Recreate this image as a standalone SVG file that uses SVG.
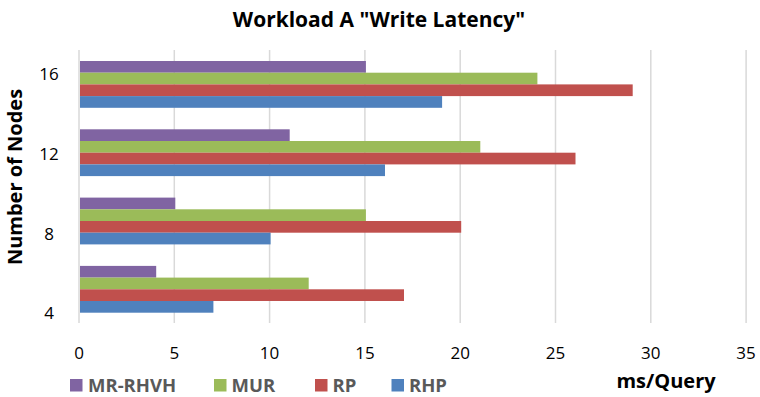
<svg xmlns="http://www.w3.org/2000/svg" width="760" height="397" viewBox="0 0 760 397">
<style>
.t{font-family:"Open Sans","Liberation Sans",sans-serif}
.title{font-size:21px;font-weight:bold;fill:#000}
.tick{font-size:17px;fill:#000}
.axt{font-size:20px;font-weight:bold;fill:#000}
.leg{font-size:18.5px;font-weight:bold;fill:#595959}
.grid{stroke:#d9d9d9;stroke-width:1.5}
.p{fill:#8064A2}.g{fill:#9BBB59}.r{fill:#C0504D}.b{fill:#4F81BD}
</style>
<rect width="760" height="397" fill="#fff"/>
<text id="title" class="t title" x="379" y="27" text-anchor="middle">Workload A "Write Latency"</text>
<g id="gridlines">
<line class="grid" x1="79" y1="50" x2="79" y2="323"/>
<line class="grid" x1="174.3" y1="50" x2="174.3" y2="323"/>
<line class="grid" x1="269.6" y1="50" x2="269.6" y2="323"/>
<line class="grid" x1="364.9" y1="50" x2="364.9" y2="323"/>
<line class="grid" x1="460.2" y1="50" x2="460.2" y2="323"/>
<line class="grid" x1="555.5" y1="50" x2="555.5" y2="323"/>
<line class="grid" x1="650.8" y1="50" x2="650.8" y2="323"/>
<line class="grid" x1="746.1" y1="50" x2="746.1" y2="323"/>
</g>
<g id="cat16">
<rect class="p" x="80" y="61" width="285.9" height="11.7"/>
<rect class="g" x="80" y="72.7" width="457.4" height="11.7"/>
<rect class="r" x="80" y="84.4" width="552.7" height="11.7"/>
<rect class="b" x="80" y="96.1" width="362.1" height="11.7"/>
</g>
<g id="cat12">
<rect class="p" x="80" y="129.3" width="209.7" height="11.7"/>
<rect class="g" x="80" y="141" width="400.3" height="11.7"/>
<rect class="r" x="80" y="152.7" width="495.5" height="11.7"/>
<rect class="b" x="80" y="164.4" width="305" height="11.7"/>
</g>
<g id="cat8">
<rect class="p" x="80" y="197.6" width="95.3" height="11.7"/>
<rect class="g" x="80" y="209.3" width="285.9" height="11.7"/>
<rect class="r" x="80" y="221" width="381.2" height="11.7"/>
<rect class="b" x="80" y="232.7" width="190.6" height="11.7"/>
</g>
<g id="cat4">
<rect class="p" x="80" y="265.9" width="76.2" height="11.7"/>
<rect class="g" x="80" y="277.6" width="228.7" height="11.7"/>
<rect class="r" x="80" y="289.3" width="324" height="11.7"/>
<rect class="b" x="80" y="301" width="133.4" height="11.7"/>
</g>
<g id="y-labels" class="t tick" text-anchor="middle">
<text x="49" y="80">16</text>
<text x="49" y="160">12</text>
<text x="49" y="240">8</text>
<text x="49" y="319">4</text>
</g>
<text id="y-title" class="t axt" font-size="21" text-anchor="middle" transform="translate(22,177) rotate(-90)">Number of Nodes</text>
<g id="x-labels" class="t tick" text-anchor="middle">
<text x="79" y="359">0</text>
<text x="174.3" y="359">5</text>
<text x="269.6" y="359">10</text>
<text x="364.9" y="359">15</text>
<text x="460.2" y="359">20</text>
<text x="555.5" y="359">25</text>
<text x="650.8" y="359">30</text>
<text x="746.1" y="359">35</text>
</g>
<text id="x-title" class="t axt" x="666" y="388" text-anchor="middle">ms/Query</text>
<g id="legend">
<rect class="p" x="70" y="379" width="12.5" height="12.5"/>
<text class="t leg" x="88" y="391.5">MR-RHVH</text>
<rect class="g" x="214" y="379" width="12.5" height="12.5"/>
<text class="t leg" x="231.5" y="391.5">MUR</text>
<rect class="r" x="315" y="379" width="12.5" height="12.5"/>
<text class="t leg" x="332.5" y="391.5">RP</text>
<rect class="b" x="391.5" y="379" width="12.5" height="12.5"/>
<text class="t leg" x="409" y="391.5">RHP</text>
</g>
</svg>
